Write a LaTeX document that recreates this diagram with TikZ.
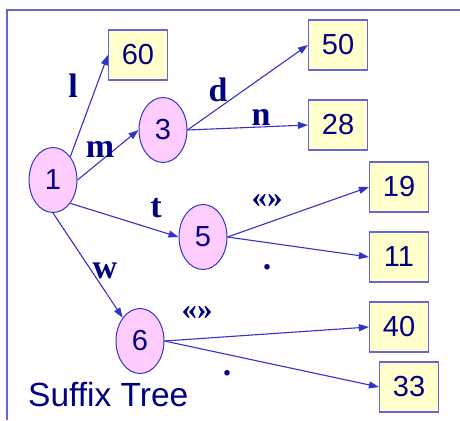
\documentclass[tikz,border=0pt]{standalone}
\usepackage{fontspec}
\setmainfont{Liberation Serif}
\newfontfamily\numfont{Liberation Sans}
\usetikzlibrary{arrows.meta}
\definecolor{txt}{HTML}{000080}
\definecolor{edge}{HTML}{3333CC}
\definecolor{frame}{HTML}{6666D6}
\definecolor{pinkfill}{HTML}{FFCCFF}
\definecolor{yelfill}{HTML}{FFFFCC}
\tikzset{
  inode/.style={ellipse,draw=edge,fill=pinkfill,line width=1pt,minimum width=48pt,minimum height=65pt,inner sep=0pt,text=txt,font=\numfont\fontsize{29}{29}\selectfont},
  leaf/.style={rectangle,draw=frame,fill=yelfill,line width=1.2pt,minimum width=59pt,minimum height=50pt,inner sep=0pt,text=txt,font=\numfont\fontsize{29}{29}\selectfont},
  elabel/.style={inner sep=0pt,text=txt,font=\bfseries\fontsize{34}{34}\selectfont},
  qlabel/.style={inner sep=0pt,text=txt,font=\bfseries\fontsize{31}{31}\selectfont},
  conn/.style={draw=edge,line width=1.1pt,-{Triangle[length=10pt,width=7pt]}}
}
\usetikzlibrary{shapes.geometric}
\begin{document}
\begin{tikzpicture}[x=1pt,y=-1pt]
\useasboundingbox (0,0) rectangle (460,420);
\fill[white] (0,0) rectangle (460,420);
\draw[frame,line width=1.5pt] (7,420) -- (7,10) -- (460,10);
% internal nodes
\node[inode] (n1) at (53,180) {1};
\node[inode] (n3) at (163,130) {3};
\node[inode] (n5) at (203,237) {5};
\node[inode] (n6) at (140,341) {6};
% leaves
\node[leaf] (b60) at (138,55) {60};
\node[leaf] (b50) at (338,45) {50};
\node[leaf] (b28) at (338,125) {28};
\node[leaf] (b19) at (399,187) {19};
\node[leaf] (b11) at (399,257) {11};
\node[leaf] (b40) at (399,327) {40};
\node[leaf] (b33) at (409,387) {33};
% edges
\draw[conn] (n1.north east) -- (b60.west);
\draw[conn] (n1.east) -- (n3.west);
\draw[conn] (n1.south east) -- (n5.west);
\draw[conn] (n1.south) -- (n6.north west);
\draw[conn] (n3.east) -- (b50.west);
\draw[conn] (n3.east) -- (b28.west);
\draw[conn] (n5.east) -- (b19.west);
\draw[conn] (n5.east) -- (b11.west);
\draw[conn] (n6.east) -- (b40.west);
\draw[conn] (n6.east) -- (b33.west);
% labels
\node[elabel] (ll) at (73,86) {l};
\node[elabel] (lm) at (100,149) {m};
\node[elabel] (ld) at (218,90) {d};
\node[elabel] (ln) at (261,117) {n};
\node[elabel] (lt) at (156,208) {t};
\node[elabel] (lw) at (105,271) {w};
\node[qlabel] (lq5) at (267,201) {«»};
\node[elabel] (ld5) at (267,267) {.};
\node[qlabel] (lq6) at (197,313) {«»};
\node[elabel] (ld6) at (227,373) {.};
\node[inner sep=0pt,text=txt,font=\numfont\fontsize{33.5}{33.5}\selectfont,anchor=west] (title) at (28,395) {Suffix Tree};
\end{tikzpicture}
\end{document}
